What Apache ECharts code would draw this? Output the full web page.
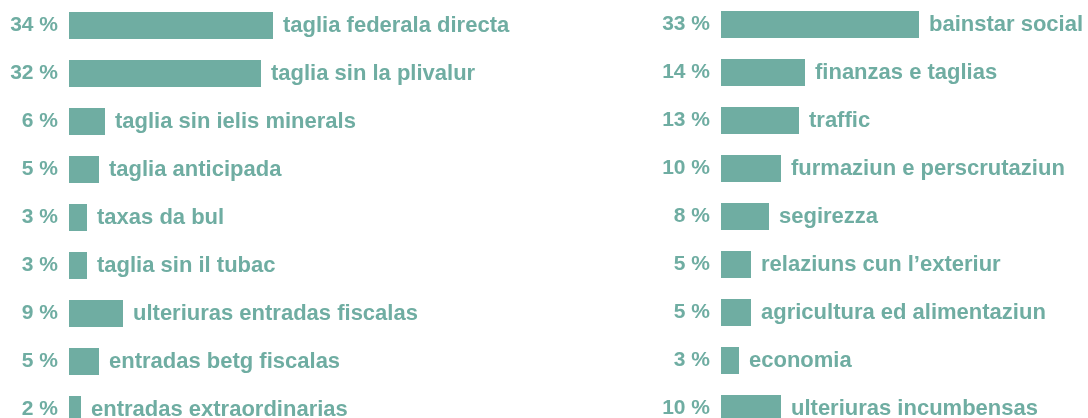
<!DOCTYPE html>
<html>
<head>
<meta charset="utf-8">
<script src="https://cdn.jsdelivr.net/npm/echarts@6/dist/echarts.min.js"></script>
<style>
  html, body { margin: 0; padding: 0; background: #ffffff; }
  #chart { width: 1088px; height: 418px; }
</style>
</head>
<body>
<div id="chart"></div>
<script>
// Entradas (left) and expenditures (right), share in percent
const incomeCategories = [
  'taglia federala directa',
  'taglia sin la plivalur',
  'taglia sin ielis minerals',
  'taglia anticipada',
  'taxas da bul',
  'taglia sin il tubac',
  'ulteriuras entradas fiscalas',
  'entradas betg fiscalas',
  'entradas extraordinarias'
];
const incomeValues = [34, 32, 6, 5, 3, 3, 9, 5, 2];

const expenseCategories = [
  'bainstar social',
  'finanzas e taglias',
  'traffic',
  'furmaziun e perscrutaziun',
  'segirezza',
  'relaziuns cun l\u2019exteriur',
  'agricultura ed alimentaziun',
  'economia',
  'ulteriuras incumbensas'
];
const expenseValues = [33, 14, 13, 10, 8, 5, 5, 3, 10];

const TEAL = '#6fada2';
const FONT = '"Liberation Sans", Arial, Helvetica, sans-serif';

function yAxisFor(gridIndex, cats, vals) {
  return {
    type: 'category',
    gridIndex: gridIndex,
    data: cats,
    inverse: true,
    axisLine: { show: false },
    axisTick: { show: false },
    splitLine: { show: false },
    axisLabel: {
      margin: 11,
      color: TEAL,
      fontFamily: FONT,
      fontWeight: 'bold',
      fontSize: 21,
      formatter: function (v, i) { return vals[i] + ' %'; }
    }
  };
}

function xAxisFor(gridIndex) {
  return {
    type: 'value',
    gridIndex: gridIndex,
    min: 0,
    max: 50,
    show: false
  };
}

function seriesFor(index, vals) {
  return {
    type: 'bar',
    xAxisIndex: index,
    yAxisIndex: index,
    data: vals,
    barWidth: 27,
    itemStyle: { color: TEAL },
    silent: true,
    label: {
      show: true,
      position: 'right',
      distance: 10,
      color: TEAL,
      fontFamily: FONT,
      fontWeight: 'bold',
      fontSize: 22,
      formatter: function (p) { return p.name; }
    }
  };
}

const chart = echarts.init(document.getElementById('chart'), null, { renderer: 'canvas' });
chart.setOption({
  animation: false,
  backgroundColor: '#ffffff',
  grid: [
    { left: 69, width: 300, top: 1.5, height: 432, containLabel: false, outerBoundsMode: 'none' },
    { left: 721, width: 300, top: 0.5, height: 432, containLabel: false, outerBoundsMode: 'none' }
  ],
  xAxis: [xAxisFor(0), xAxisFor(1)],
  yAxis: [yAxisFor(0, incomeCategories, incomeValues), yAxisFor(1, expenseCategories, expenseValues)],
  series: [seriesFor(0, incomeValues), seriesFor(1, expenseValues)]
});
</script>
</body>
</html>
